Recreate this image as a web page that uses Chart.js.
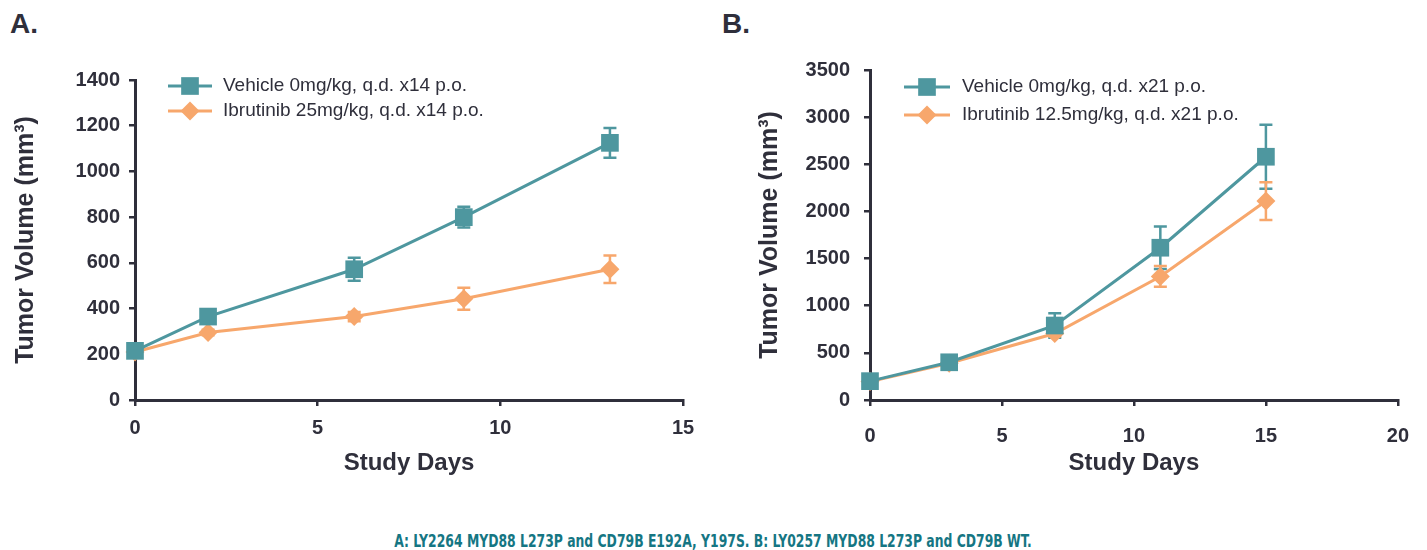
<!DOCTYPE html>
<html>
<head>
<meta charset="utf-8">
<script src="https://cdn.jsdelivr.net/npm/chart.js@4.4.1/dist/chart.umd.min.js"></script>
<style>
  body { margin: 0; background: #fff; width: 1427px; height: 550px; position: relative; overflow: hidden; font-family: "Liberation Sans", Arial, sans-serif; }
  .panel-label { position: absolute; font-weight: bold; font-size: 28px; color: #2f2f3b; line-height: 1; }
  #wrapA { position: absolute; left: 0; top: 0; width: 710px; height: 500px; }
  #wrapB { position: absolute; left: 710px; top: 0; width: 717px; height: 500px; }
  .caption { position: absolute; left: 0; width: 1427px; top: 531px; line-height: 20px; text-align: center; font-family: "DejaVu Sans Condensed", "Liberation Sans Narrow", sans-serif; font-weight: bold; font-size: 17px; color: #157683; transform: scaleX(0.81); transform-origin: 711px 50%; white-space: nowrap; }
</style>
</head>
<body>
<div class="panel-label" style="left:10px; top:10px;">A.</div>
<div class="panel-label" style="left:722px; top:10px;">B.</div>
<div id="wrapA"><canvas id="grafico-a"></canvas></div>
<div id="wrapB"><canvas id="grafico-b"></canvas></div>
<div class="caption">A: LY2264 MYD88 L273P and CD79B E192A, Y197S. B: LY0257 MYD88 L273P and CD79B WT.</div>
<script>
// Datos panel A
const diasA = [0, 2, 6, 9, 13];
const vehiculoA = [215, 365, 572, 800, 1125];
const errVehiculoA = [15, 20, 50, 45, 65];
const ibrutinibA = [210, 295, 365, 443, 572];
const errIbrutinibA = [10, 12, 20, 48, 60];
const ticksXA = [0, 5, 10, 15];
const ticksYA = [0, 200, 400, 600, 800, 1000, 1200, 1400];
const leyendaA = ['Vehicle 0mg/kg, q.d. x14 p.o.', 'Ibrutinib 25mg/kg, q.d. x14 p.o.'];

// Datos panel B
const diasB = [0, 3, 7, 11, 15];
const vehiculoB = [200, 400, 790, 1615, 2580];
const errVehiculoB = [20, 30, 130, 225, 340];
const ibrutinibB = [195, 390, 705, 1310, 2110];
const errIbrutinibB = [10, 20, 30, 110, 200];
const ticksXB = [0, 5, 10, 15, 20];
const ticksYB = [0, 500, 1000, 1500, 2000, 2500, 3000, 3500];
const leyendaB = ['Vehicle 0mg/kg, q.d. x21 p.o.', 'Ibrutinib 12.5mg/kg, q.d. x21 p.o.'];

const TEAL = '#4e979f';
const NARANJA = '#f7a76c';
const TEXTO = '#2f2f3b';
const FUENTE = '"Liberation Sans", Arial, sans-serif';

/**
 * Dibuja barras de error usando las escalas del gráfico
 */
const barrasErrorPlugin = {
  id: 'barrasError',
  beforeDatasetsDraw(chart) {
    const ctx = chart.ctx;
    const escX = chart.scales.x;
    const escY = chart.scales.y;
    chart.data.datasets.forEach(ds => {
      if (!ds.errores) return;
      ctx.save();
      ctx.strokeStyle = ds.borderColor;
      ctx.lineWidth = 2.5;
      ds.data.forEach((p, i) => {
        const e = ds.errores[i];
        const x = escX.getPixelForValue(p.x);
        const yArriba = escY.getPixelForValue(p.y + e);
        const yAbajo = escY.getPixelForValue(p.y - e);
        ctx.beginPath();
        ctx.moveTo(x, yArriba);
        ctx.lineTo(x, yAbajo);
        ctx.moveTo(x - 6.5, yArriba);
        ctx.lineTo(x + 6.5, yArriba);
        ctx.moveTo(x - 6.5, yAbajo);
        ctx.lineTo(x + 6.5, yAbajo);
        ctx.stroke();
      });
      ctx.restore();
    });
  }
};

/**
 * Leyenda con línea y marcador dentro del área del gráfico
 */
const leyendaPlugin = {
  id: 'leyenda',
  afterDraw(chart, args, opts) {
    const ctx = chart.ctx;
    const area = chart.chartArea;
    chart.data.datasets.forEach((ds, i) => {
      const y = area.top + opts.top + i * opts.gap;
      const x0 = area.left + opts.left;
      ctx.save();
      ctx.strokeStyle = ds.borderColor;
      ctx.fillStyle = ds.backgroundColor;
      ctx.lineWidth = ds.borderWidth;
      ctx.beginPath();
      ctx.moveTo(x0, y);
      ctx.lineTo(x0 + opts.largo, y);
      ctx.stroke();
      Chart.helpers.drawPoint(ctx, { pointStyle: ds.pointStyle, radius: ds.pointRadius, borderWidth: 0, rotation: 0 }, x0 + opts.largo / 2, y);
      ctx.fillStyle = TEXTO;
      ctx.font = '19px ' + FUENTE;
      ctx.textBaseline = 'middle';
      ctx.fillText(ds.label, area.left + opts.texto, y);
      ctx.restore();
    });
  }
};

function serie(dias, valores) {
  return dias.map((d, i) => ({ x: d, y: valores[i] }));
}

function dataset(label, dias, valores, errores, color, estilo, radio) {
  return {
    label: label,
    data: serie(dias, valores),
    errores: errores,
    borderColor: color,
    backgroundColor: color,
    borderWidth: 3,
    pointStyle: estilo,
    pointRadius: radio,
    pointHoverRadius: radio,
    pointBorderWidth: 0,
    tension: 0,
    clip: false
  };
}

function crearGrafico(idCanvas, cfg) {
  return new Chart(document.getElementById(idCanvas), {
    type: 'line',
    data: {
      datasets: [
        dataset(cfg.leyenda[0], cfg.dias, cfg.vehiculo, cfg.errVehiculo, TEAL, 'rect', 12.5),
        dataset(cfg.leyenda[1], cfg.dias, cfg.ibrutinib, cfg.errIbrutinib, NARANJA, 'rectRot', 9.5)
      ]
    },
    options: {
      responsive: true,
      maintainAspectRatio: false,
      animation: false,
      events: [],
      layout: { padding: { left: 0, top: cfg.padTop, right: cfg.padRight, bottom: 0 } },
      plugins: {
        legend: { display: false },
        tooltip: { enabled: false },
        leyenda: cfg.leyendaPos
      },
      scales: {
        x: {
          type: 'linear',
          min: cfg.ticksX[0],
          max: cfg.ticksX[cfg.ticksX.length - 1],
          afterBuildTicks: s => { s.ticks = cfg.ticksX.map(v => ({ value: v })); },
          afterFit: s => { s.height = 100; },
          border: { display: true, color: TEXTO, width: 3 },
          grid: { drawOnChartArea: false, drawTicks: true, tickLength: 6, color: TEXTO, lineWidth: 2.5 },
          ticks: { color: TEXTO, font: { family: FUENTE, size: 20, weight: 'bold' }, padding: cfg.padTickX, maxRotation: 0, callback: v => String(v) },
          title: { display: true, text: 'Study Days', color: TEXTO, font: { family: FUENTE, size: 24, weight: 'bold' }, padding: { top: 0, bottom: 22 } }
        },
        y: {
          type: 'linear',
          min: cfg.ticksY[0],
          max: cfg.ticksY[cfg.ticksY.length - 1],
          afterBuildTicks: s => { s.ticks = cfg.ticksY.map(v => ({ value: v })); },
          afterFit: s => { s.width = cfg.anchoY; },
          border: { display: true, color: TEXTO, width: 3 },
          grid: { drawOnChartArea: false, drawTicks: true, tickLength: 6, color: TEXTO, lineWidth: 2.5 },
          ticks: { color: TEXTO, font: { family: FUENTE, size: 20, weight: 'bold' }, padding: cfg.padTickY, callback: v => String(v) },
          title: { display: true, text: 'Tumor Volume (mm³)', color: TEXTO, font: { family: FUENTE, size: 25, weight: 'bold' }, padding: { top: cfg.padTituloY, bottom: 0 } }
        }
      }
    },
    plugins: [barrasErrorPlugin, leyendaPlugin]
  });
}

crearGrafico('grafico-a', {
  dias: diasA, vehiculo: vehiculoA, errVehiculo: errVehiculoA,
  ibrutinib: ibrutinibA, errIbrutinib: errIbrutinibA,
  ticksX: ticksXA, ticksY: ticksYA, leyenda: leyendaA,
  padTop: 80, padRight: 27, anchoY: 135, padTickX: 10, padTickY: 9, padTituloY: 11,
  leyendaPos: { left: 33, largo: 44, texto: 88, top: 6, gap: 25 }
});

crearGrafico('grafico-b', {
  dias: diasB, vehiculo: vehiculoB, errVehiculo: errVehiculoB,
  ibrutinib: ibrutinibB, errIbrutinib: errIbrutinibB,
  ticksX: ticksXB, ticksY: ticksYB, leyenda: leyendaB,
  padTop: 70, padRight: 24, anchoY: 160, padTickX: 18, padTickY: 14, padTituloY: 45,
  leyendaPos: { left: 34, largo: 46, texto: 92, top: 17, gap: 28 }
});
</script>
</body>
</html>
